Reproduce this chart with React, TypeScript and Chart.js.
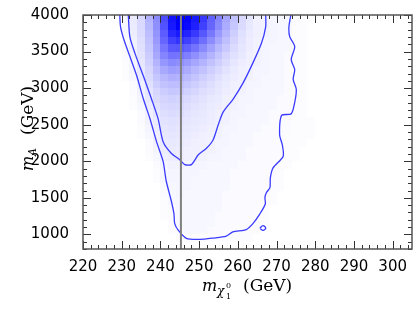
import { useEffect, useRef } from 'react';
import { Chart, registerables } from 'chart.js';

Chart.register(...registerables);

// Axis ticks
const X_TICKS = [220, 230, 240, 250, 260, 270, 280, 290, 300];
const Y_TICKS = [1000, 1500, 2000, 2500, 3000, 3500, 4000];

// Vertical reference line
const REF_X = 245.3;

// Heat map bins (lower edges) and density (percent of peak), top row first
const BIN_W = 2;
const BIN_H = 100;
const HEAT_X = [228, 230, 232, 234, 236, 238, 240, 242, 244, 246, 248, 250, 252, 254, 256, 258, 260, 262, 264, 266, 268, 270, 272, 274, 276, 278, 280];
const HEAT_Y = [3900, 3800, 3700, 3600, 3500, 3400, 3300, 3200, 3100, 3000, 2900, 2800, 2700, 2600, 2500, 2400, 2300, 2200, 2100, 2000, 1900, 1800, 1700, 1600, 1500, 1400, 1300, 1200, 1100, 1000, 900, 800];
const HEAT_ROWS = [
  [0, 3, 8, 15, 30, 45, 70, 92, 100, 98, 90, 78, 62, 48, 35, 24, 15, 10, 6, 5, 4, 3, 3, 1, 1, 0, 0],
  [0, 3, 8, 15, 28, 44, 68, 90, 100, 96, 88, 75, 60, 46, 33, 22, 14, 9, 6, 5, 4, 3, 3, 1, 1, 0, 0],
  [0, 3, 7, 14, 26, 42, 64, 84, 90, 86, 78, 66, 53, 40, 29, 19, 12, 8, 6, 5, 4, 3, 3, 1, 1, 0, 0],
  [0, 2, 6, 13, 24, 40, 60, 75, 80, 75, 67, 57, 45, 34, 25, 17, 11, 7, 5, 4, 4, 3, 3, 1, 1, 0, 0],
  [0, 2, 6, 12, 22, 37, 54, 65, 66, 62, 55, 46, 37, 28, 21, 14, 10, 7, 5, 4, 3, 3, 3, 1, 1, 0, 0],
  [0, 2, 5, 11, 20, 34, 48, 55, 54, 50, 44, 37, 30, 23, 17, 12, 9, 6, 5, 4, 3, 3, 2, 1, 1, 0, 0],
  [0, 1, 4, 10, 18, 30, 41, 46, 44, 40, 35, 30, 24, 19, 14, 10, 7, 6, 5, 4, 3, 3, 2, 1, 1, 0, 0],
  [0, 1, 4, 9, 16, 26, 34, 38, 36, 33, 28, 24, 19, 15, 11, 8, 6, 5, 4, 4, 3, 3, 2, 1, 1, 0, 0],
  [0, 1, 3, 8, 14, 22, 28, 31, 30, 27, 23, 19, 16, 12, 9, 7, 6, 5, 4, 3, 3, 3, 2, 1, 1, 0, 0],
  [0, 0, 2, 6, 12, 19, 24, 26, 25, 22, 19, 16, 13, 10, 8, 6, 5, 4, 4, 3, 3, 3, 2, 1, 1, 0, 0],
  [0, 0, 2, 5, 10, 16, 20, 22, 21, 18, 16, 13, 11, 9, 7, 6, 5, 4, 3, 3, 3, 3, 2, 1, 1, 0, 0],
  [0, 0, 1, 4, 9, 14, 17, 18, 17, 15, 13, 11, 9, 8, 6, 5, 4, 4, 3, 3, 3, 2, 2, 1, 1, 0, 0],
  [0, 0, 1, 3, 7, 12, 15, 16, 15, 13, 11, 10, 8, 7, 6, 5, 4, 3, 3, 3, 3, 2, 2, 1, 1, 0, 0],
  [0, 0, 0, 2, 6, 10, 13, 14, 13, 11, 10, 9, 7, 6, 5, 4, 4, 3, 3, 3, 2, 2, 2, 1, 1, 0, 0],
  [0, 0, 0, 2, 5, 8, 11, 12, 11, 10, 9, 8, 7, 6, 5, 4, 3, 3, 3, 3, 2, 2, 2, 1, 1, 1, 0],
  [0, 0, 0, 1, 4, 7, 10, 11, 10, 9, 8, 7, 6, 5, 4, 4, 3, 3, 3, 2, 2, 2, 2, 1, 1, 1, 0],
  [0, 0, 0, 1, 3, 6, 9, 10, 9, 8, 7, 6, 5, 5, 4, 3, 3, 3, 2, 2, 2, 2, 1, 1, 1, 1, 0],
  [0, 0, 0, 0, 2, 5, 8, 9, 8, 7, 6, 6, 5, 4, 4, 3, 3, 3, 2, 2, 2, 2, 1, 1, 1, 0, 0],
  [0, 0, 0, 0, 2, 4, 7, 8, 7, 6, 6, 5, 5, 4, 3, 3, 3, 2, 2, 2, 2, 2, 1, 1, 0, 0, 0],
  [0, 0, 0, 0, 1, 3, 6, 7, 7, 6, 5, 5, 4, 4, 3, 3, 3, 2, 2, 2, 2, 1, 1, 1, 0, 0, 0],
  [0, 0, 0, 0, 0, 2, 4, 5, 5, 4, 4, 4, 3, 3, 3, 3, 2, 2, 2, 2, 2, 1, 1, 0, 0, 0, 0],
  [0, 0, 0, 0, 0, 1, 3, 4, 4, 4, 4, 3, 3, 3, 3, 2, 2, 2, 2, 2, 2, 1, 0, 0, 0, 0, 0],
  [0, 0, 0, 0, 0, 1, 3, 4, 4, 4, 3, 3, 3, 3, 3, 2, 2, 2, 2, 2, 2, 1, 0, 0, 0, 0, 0],
  [0, 0, 0, 0, 0, 0, 2, 3, 4, 4, 3, 3, 3, 3, 3, 2, 2, 2, 2, 2, 1, 1, 0, 0, 0, 0, 0],
  [0, 0, 0, 0, 0, 0, 2, 3, 4, 3, 3, 3, 3, 3, 2, 2, 2, 2, 2, 2, 1, 0, 0, 0, 0, 0, 0],
  [0, 0, 0, 0, 0, 0, 1, 3, 3, 3, 3, 3, 3, 3, 2, 2, 2, 2, 2, 1, 1, 0, 0, 0, 0, 0, 0],
  [0, 0, 0, 0, 0, 0, 1, 2, 3, 3, 3, 3, 3, 3, 2, 2, 2, 2, 2, 1, 0, 0, 0, 0, 0, 0, 0],
  [0, 0, 0, 0, 0, 0, 1, 2, 3, 3, 3, 3, 3, 2, 2, 2, 2, 2, 1, 1, 0, 0, 0, 0, 0, 0, 0],
  [0, 0, 0, 0, 0, 0, 0, 2, 3, 3, 3, 3, 3, 2, 2, 2, 2, 2, 1, 1, 0, 0, 0, 0, 0, 0, 0],
  [0, 0, 0, 0, 0, 0, 0, 1, 2, 3, 3, 3, 2, 2, 2, 2, 2, 1, 1, 0, 0, 0, 0, 0, 0, 0, 0],
  [0, 0, 0, 0, 0, 0, 0, 0, 1, 1, 1, 1, 1, 1, 1, 1, 1, 1, 0, 0, 0, 0, 0, 0, 0, 0, 0],
  [0, 0, 0, 0, 0, 0, 0, 0, 0, 0, 0, 0, 0, 0, 0, 0, 0, 0, 0, 0, 0, 0, 0, 0, 0, 0, 0],
];

// Outer contour
const OUTER_X = [229.5, 229.7, 230.6, 232.1, 233.9, 235.6, 237.3, 239.0, 240.7, 241.5, 242.8, 243.5, 243.7, 244.6, 246.7, 250.2, 253.6, 257.0, 258.7, 262.2, 263.9, 265.7, 267.1, 267.0, 267.4, 268.3, 268.4, 269.1, 271.7, 271.5, 270.8, 271.3, 273.8, 274.7, 275.1, 274.3, 274.7, 273.8, 274.7, 273.4, 273.2, 273.7];
const OUTER_Y = [4000, 3838, 3658, 3435, 3165, 2851, 2582, 2268, 1999, 1730, 1460, 1281, 1147, 1057, 945, 931, 949, 976, 1034, 1066, 1147, 1281, 1416, 1505, 1572, 1640, 1774, 1909, 2066, 2223, 2358, 2627, 2649, 2806, 2985, 3120, 3254, 3389, 3569, 3704, 3838, 4000];

// Inner contour
const INNER_X = [231.7, 232.1, 233.4, 235.6, 237.7, 239.4, 240.7, 242.8, 245.0, 246.3, 248.0, 249.8, 251.9, 253.6, 254.9, 256.2, 258.8, 261.4, 263.9, 266.1, 267.2, 267.2];
const INNER_Y = [4000, 3704, 3479, 3165, 2851, 2582, 2268, 2110, 2021, 1954, 1954, 2089, 2178, 2291, 2492, 2672, 2851, 3075, 3345, 3614, 3838, 4000];

// Small island contour
const ISLAND_X = [265.7, 266.5, 267.2, 266.5, 265.7];
const ISLAND_Y = [1085, 1120, 1085, 1055, 1085];

const zip = (xs: number[], ys: number[]) => xs.map((x, i) => ({ x, y: ys[i] }));

export default function App() {
  const ref = useRef<HTMLCanvasElement>(null);

  useEffect(() => {
    if (!ref.current) return;

    const heatPlugin = {
      id: 'heat',
      beforeDatasetsDraw(chart: any) {
        const { ctx, chartArea, scales } = chart;
        const xs = scales.x;
        const ys = scales.y;
        ctx.save();
        ctx.beginPath();
        ctx.rect(chartArea.left, chartArea.top, chartArea.right - chartArea.left, chartArea.bottom - chartArea.top);
        ctx.clip();
        HEAT_ROWS.forEach((row, r) => {
          const y0 = HEAT_Y[r];
          const top = Math.round(ys.getPixelForValue(y0 + BIN_H));
          const bot = Math.round(ys.getPixelForValue(y0));
          row.forEach((v, c) => {
            if (!v) return;
            const x0 = HEAT_X[c];
            const l = Math.round(xs.getPixelForValue(x0));
            const rr = Math.round(xs.getPixelForValue(x0 + BIN_W));
            const k = Math.round(255 * (1 - v / 100));
            ctx.fillStyle = `rgb(${k},${k},255)`;
            ctx.fillRect(l, top, rr - l, bot - top);
          });
        });
        ctx.restore();
      },
    };

    const framePlugin = {
      id: 'frame',
      afterDraw(chart: any) {
        const { ctx, chartArea, scales } = chart;
        const xs = scales.x;
        const ys = scales.y;
        const { left, right, top, bottom } = chartArea;
        ctx.save();
        ctx.strokeStyle = '#333';
        ctx.lineWidth = 1;
        for (let v = 220; v <= 305; v += 2) {
          const major = v % 10 === 0;
          const len = major ? 8 : 4;
          const px = Math.round(xs.getPixelForValue(v)) + 0.5;
          ctx.beginPath();
          ctx.moveTo(px, bottom);
          ctx.lineTo(px, bottom - len);
          ctx.moveTo(px, top);
          ctx.lineTo(px, top + len);
          ctx.stroke();
        }
        for (let v = 800; v <= 4000; v += 100) {
          const major = v % 500 === 0;
          const len = major ? 8 : 4;
          const py = Math.round(ys.getPixelForValue(v)) + 0.5;
          ctx.beginPath();
          ctx.moveTo(left, py);
          ctx.lineTo(left + len, py);
          ctx.moveTo(right, py);
          ctx.lineTo(right - len, py);
          ctx.stroke();
        }
        ctx.strokeStyle = '#555';
        ctx.lineWidth = 1.5;
        ctx.strokeRect(left, top, right - left, bottom - top);

        // axis titles
        ctx.fillStyle = '#000';
        ctx.textBaseline = 'alphabetic';
        ctx.textAlign = 'left';
        // x title
        ctx.font = 'italic 16px "DejaVu Serif"';
        ctx.fillText('m', 202, 291);
        ctx.font = 'italic 12px "DejaVu Serif"';
        ctx.fillText('χ', 217, 295);
        ctx.font = '8px "DejaVu Serif"';
        ctx.fillText('0', 226, 288);
        ctx.fillText('1', 226, 299);
        ctx.font = '17px "DejaVu Serif"';
        ctx.fillText('(GeV)', 243, 291);
        // y title (reads bottom to top)
        ctx.save();
        ctx.translate(33, 171);
        ctx.rotate(-Math.PI / 2);
        ctx.font = 'italic 16px "DejaVu Serif"';
        ctx.fillText('m', 0, 0);
        ctx.font = 'italic 11px "DejaVu Serif"';
        ctx.fillText('A', 15, 3);
        ctx.font = '17px "DejaVu Serif"';
        ctx.fillText('(GeV)', 36, 0);
        ctx.restore();
        ctx.restore();
      },
    };

    const contourStyle = {
      showLine: true,
      pointRadius: 0,
      borderColor: '#3b3bff',
      borderWidth: 1.3,
      tension: 0.25,
      fill: false,
    };

    const chart = new Chart(ref.current, {
      type: 'scatter',
      data: {
        datasets: [
          {
            data: [{ x: REF_X, y: 800 }, { x: REF_X, y: 4000 }],
            showLine: true,
            pointRadius: 0,
            borderColor: '#808080',
            borderWidth: 2,
          },
          { ...contourStyle, data: zip(INNER_X, INNER_Y) },
          { ...contourStyle, data: zip(OUTER_X, OUTER_Y) },
          { ...contourStyle, data: zip(ISLAND_X, ISLAND_Y), tension: 0.4 },
        ],
      },
      options: {
        responsive: false,
        animation: false,
        layout: { padding: { top: 11, right: 4, left: 0, bottom: 0 } },
        plugins: { legend: { display: false }, tooltip: { enabled: false } },
        scales: {
          x: {
            type: 'linear',
            min: 220,
            max: 305,
            grid: { display: false },
            border: { display: false },
            ticks: {
              autoSkip: false,
              maxRotation: 0,
              padding: 1,
              color: '#000',
              font: { family: '"DejaVu Sans"', size: 15 },
              callback: (v: any) => String(v),
            },
            afterBuildTicks: (s: any) => {
              s.ticks = X_TICKS.map((v) => ({ value: v }));
            },
            afterFit: (s: any) => {
              s.height = 63;
            },
          },
          y: {
            type: 'linear',
            min: 800,
            max: 4000,
            grid: { display: false },
            border: { display: false },
            ticks: {
              autoSkip: false,
              padding: 6,
              color: '#000',
              font: { family: '"DejaVu Sans"', size: 15 },
              callback: (v: any) => String(v),
            },
            afterBuildTicks: (s: any) => {
              s.ticks = Y_TICKS.map((v) => ({ value: v }));
            },
            afterFit: (s: any) => {
              s.width = 83;
            },
          },
        },
      },
      plugins: [heatPlugin, framePlugin],
    });

    return () => chart.destroy();
  }, []);

  return (
    <canvas
      ref={ref}
      width={416}
      height={312}
      style={{ position: 'fixed', left: 0, top: 0, width: 416, height: 312, display: 'block', background: '#fff' }}
    />
  );
}
